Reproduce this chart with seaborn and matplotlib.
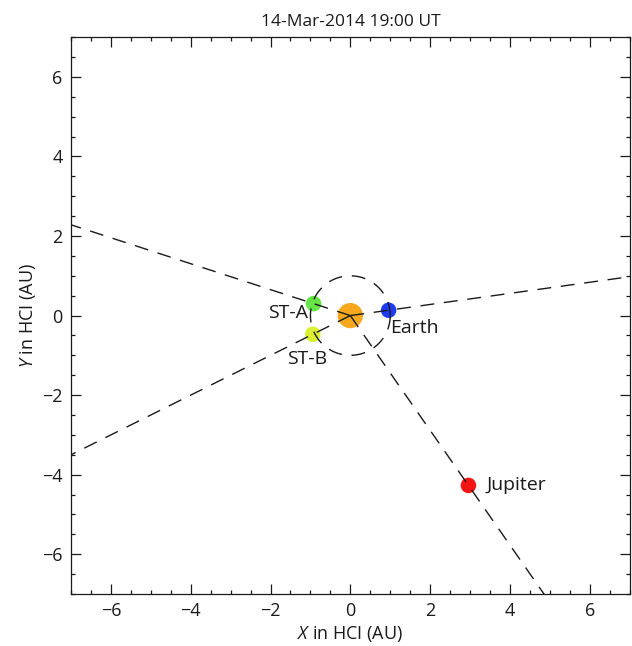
import numpy as np
import pandas as pd
import matplotlib
matplotlib.use('Agg')
import matplotlib.pyplot as plt
import seaborn as sns

sns.set_theme(style='white')
plt.rcParams['font.family'] = ['Open Sans', 'DejaVu Sans']
plt.rcParams['mathtext.fontset'] = 'custom'
plt.rcParams['mathtext.it'] = 'Open Sans:italic'
plt.rcParams['mathtext.rm'] = 'Open Sans'

# body positions in HCI (AU)
names = ['Sun', 'Earth', 'ST-A', 'ST-B', 'Jupiter']
xpos = [0.0, 0.96, -0.92, -0.94, 2.96]
ypos = [0.0, 0.134, 0.30, -0.47, -4.27]
colors = ['#f5a81c', '#1f3cf0', '#66e646', '#dcf032', '#f51414']
title = '14-Mar-2014 19:00 UT'
ticks = [-6, -4, -2, 0, 2, 4, 6]

df = pd.DataFrame({'name': names, 'x': xpos, 'y': ypos})
df['size'] = np.where(df['name'] == 'Sun', 2, 1)

fig = plt.figure(figsize=(6.32, 6.46), dpi=100)
ax = fig.add_axes([0.1123, 0.0805, 0.884, 0.862])

sns.scatterplot(data=df, x='x', y='y', hue='name', palette=colors, size='size',
                sizes={1: 125, 2: 330}, linewidth=0, legend=False, ax=ax, zorder=2)

# dashed radial lines from the Sun through each body
dash = (10, 7)
for name, x, y in zip(names[1:], xpos[1:], ypos[1:]):
    ax.plot([0, x * 50], [0, y * 50], color='k', lw=1.0, dashes=dash, zorder=3)

# Earth orbit
th = np.linspace(0, 2 * np.pi, 400)
ax.plot(np.cos(th), np.sin(th), color='k', lw=1.0, dashes=dash, zorder=3)

# labels
lab = {'Earth': (1, -13, 'left', 'center'),
       'ST-A': (-4, -7, 'right', 'center'),
       'ST-B': (-4, -18, 'center', 'center'),
       'Jupiter': (13, 0, 'left', 'center')}
for name, x, y in zip(names, xpos, ypos):
    if name in lab:
        dx, dy, ha, va = lab[name]
        ax.annotate(name, (x, y), xytext=(dx, dy), textcoords='offset points',
                    ha=ha, va=va, fontsize=14, color='k')

ax.set_xlim(-7, 7)
ax.set_ylim(-7, 7)
ax.set_xticks(ticks)
ax.set_yticks(ticks)
ax.set_xticks(np.arange(-7, 7.01, 0.5), minor=True)
ax.set_yticks(np.arange(-7, 7.01, 0.5), minor=True)
ax.tick_params(which='both', direction='in', top=True, right=True, bottom=True, left=True,
               color='k', width=0.9, labelsize=13, labelcolor='k')
ax.tick_params(which='major', length=7, pad=6)
ax.tick_params(which='minor', length=3)
for s in ax.spines.values():
    s.set_color('k')
    s.set_linewidth(0.9)

ax.set_xlabel(r'$\mathit{X}$ in HCI (AU)', fontsize=13, color='k', labelpad=3)
ax.set_ylabel(r'$\mathit{Y}$ in HCI (AU)', fontsize=13, color='k', labelpad=3)
ax.set_title(title, fontsize=12.5, color='k', pad=8)

fig.savefig('out.png', dpi=100)
